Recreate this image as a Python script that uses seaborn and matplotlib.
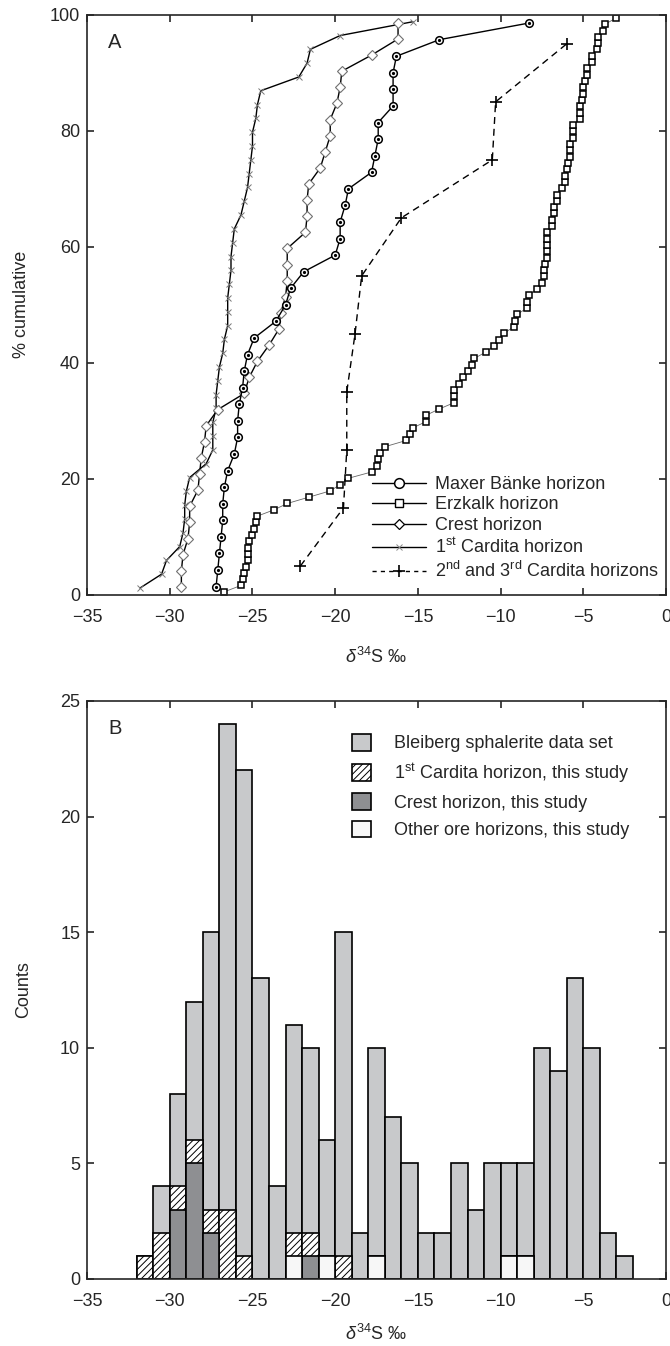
import numpy as np
import pandas as pd
import matplotlib.pyplot as plt
from matplotlib.patches import Patch
from matplotlib.lines import Line2D
import seaborn as sns

sns.set_style("ticks")
plt.rcParams['font.family'] = ['Liberation Sans', 'DejaVu Sans']
plt.rcParams['mathtext.fontset'] = 'custom'
plt.rcParams['mathtext.rm'] = 'Liberation Sans'
plt.rcParams['mathtext.it'] = 'Liberation Sans:italic'
plt.rcParams['hatch.linewidth'] = 0.7
plt.rcParams['hatch.color'] = '#444444'

# --- panel A: d34S values per horizon (sorted) ---
maxer = [-27.2, -27.1, -27.0, -26.9, -26.8, -26.8, -26.7, -26.5, -26.1, -25.9,
         -25.9, -25.8, -25.6, -25.5, -25.3, -24.9, -23.6, -23.0, -22.7, -21.9,
         -20.0, -19.7, -19.7, -19.4, -19.2, -17.8, -17.6, -17.4, -17.4, -16.5,
         -16.5, -16.5, -16.3, -13.7, -8.3]
erzkalk = [-26.7, -25.7, -25.6, -25.5, -25.4, -25.3, -25.3, -25.3, -25.2, -25.0,
           -24.9, -24.8, -24.7, -23.7, -22.9, -21.6, -20.3, -19.7, -19.2, -17.8,
           -17.5, -17.4, -17.3, -17.0, -15.7, -15.5, -15.3, -14.5, -14.5, -13.7,
           -12.8, -12.8, -12.8, -12.5, -12.3, -12.0, -11.7, -11.6, -10.9, -10.4,
           -10.1, -9.8, -9.2, -9.1, -9.0, -8.4, -8.4, -8.3, -7.8, -7.5,
           -7.4, -7.4, -7.3, -7.2, -7.2, -7.2, -7.2, -7.2, -6.9, -6.9,
           -6.8, -6.8, -6.6, -6.6, -6.3, -6.1, -6.1, -6.0, -5.9, -5.8,
           -5.8, -5.8, -5.6, -5.6, -5.6, -5.2, -5.2, -5.2, -5.1, -5.0,
           -5.0, -4.9, -4.8, -4.8, -4.5, -4.5, -4.2, -4.1, -4.1, -3.8,
           -3.7, -3.0]
crest = [-29.3, -29.3, -29.2, -28.9, -28.8, -28.8, -28.3, -28.2, -28.1, -27.9,
         -27.8, -27.1, -25.5, -25.2, -24.7, -24.0, -23.4, -23.3, -23.0, -22.9,
         -22.9, -22.9, -21.8, -21.7, -21.7, -21.6, -20.9, -20.6, -20.3, -20.3,
         -19.9, -19.7, -19.6, -17.8, -16.2, -16.2]
cardita1 = [-31.8, -30.5, -30.2, -29.4, -29.2, -29.1, -29.1, -29.0, -28.8, -27.8,
            -27.4, -27.4, -27.4, -27.2, -27.2, -27.1, -27.0, -26.8, -26.7, -26.5,
            -26.5, -26.5, -26.4, -26.3, -26.3, -26.2, -26.1, -25.7, -25.5, -25.3,
            -25.2, -25.1, -25.0, -25.0, -24.8, -24.7, -24.5, -22.2, -21.7, -21.5,
            -19.7, -15.3]
cardita23 = [-22.1, -19.5, -19.3, -19.3, -18.8, -18.4, -16.0, -10.5, -10.3, -6.0]

# --- panel B: histogram counts, 1 permil bins from -32 to -2 ---
bin_edges = list(range(-32, -1))
total = [1, 4, 8, 12, 15, 24, 22, 13, 4, 11, 10, 6, 15, 2, 10, 7, 5, 2, 2, 5,
         3, 5, 5, 5, 10, 9, 13, 10, 2, 1]
card1_counts = [1, 2, 1, 1, 1, 3, 1, 0, 0, 1, 1, 0, 1, 0, 0, 0, 0, 0, 0, 0,
                0, 0, 0, 0, 0, 0, 0, 0, 0, 0]
crest_counts = [0, 0, 3, 5, 2, 0, 0, 0, 0, 0, 1, 0, 0, 0, 0, 0, 0, 0, 0, 0,
                0, 0, 0, 0, 0, 0, 0, 0, 0, 0]
other_counts = [0, 0, 0, 0, 0, 0, 0, 0, 0, 1, 0, 1, 0, 0, 1, 0, 0, 0, 0, 0,
                0, 0, 1, 1, 0, 0, 0, 0, 0, 0]


def cum_pct(vals):
    n = len(vals)
    return (np.arange(1, n + 1) - 0.5) / n * 100


fig = plt.figure(figsize=(6.7, 13.46), dpi=100)
axA = fig.add_axes([0.130, 0.558, 0.864, 0.431])
axB = fig.add_axes([0.130, 0.0498, 0.864, 0.4294])

FS = 13

# panel A curves
sns.lineplot(x=erzkalk, y=cum_pct(erzkalk), estimator=None, sort=False, ax=axA,
             color='#666666', lw=0.6, marker='s', ms=4.5, mfc='white', mec='black', mew=1.1)
sns.lineplot(x=cardita1, y=cum_pct(cardita1), estimator=None, sort=False, ax=axA,
             color='black', lw=1.0, marker='x', ms=4.5, mec='#777777', mew=0.7)
sns.lineplot(x=crest, y=cum_pct(crest), estimator=None, sort=False, ax=axA,
             color='black', lw=1.0, marker='D', ms=5, mfc='white', mec='#707070', mew=0.8)
sns.lineplot(x=maxer, y=cum_pct(maxer), estimator=None, sort=False, ax=axA,
             color='black', lw=1.0, marker='o', ms=5.5, mfc='white', mec='black', mew=1.1)
axA.plot(maxer, cum_pct(maxer), ls='none', marker='o', ms=1.3, color='black')
sns.lineplot(x=cardita23, y=cum_pct(cardita23), estimator=None, sort=False, ax=axA,
             color='black', lw=1.0, linestyle=(0, (5, 3.5)), marker='+', ms=8,
             mec='black', mew=1.2)

handlesA = [
    Line2D([], [], color='black', lw=1, marker='o', ms=7, mfc='white', mec='black', mew=1.1),
    Line2D([], [], color='black', lw=1, marker='s', ms=5.5, mfc='white', mec='black', mew=1.0),
    Line2D([], [], color='black', lw=1, marker='D', ms=5.5, mfc='white', mec='black', mew=0.9),
    Line2D([], [], color='black', lw=1, marker='x', ms=4, mec='#888888', mew=0.7),
    Line2D([], [], color='black', lw=1, linestyle=(0, (3, 3)), marker='+', ms=8, mew=1.2),
]
labelsA = ['Maxer Bänke horizon', 'Erzkalk horizon', 'Crest horizon',
           '1$^{\\rm st}$ Cardita horizon', '2$^{\\rm nd}$ and 3$^{\\rm rd}$ Cardita horizons']
axA.legend(handlesA, labelsA, loc='lower right', bbox_to_anchor=(0.988, 0.024),
           frameon=False, fontsize=FS, handlelength=3.0, handletextpad=0.5,
           labelspacing=0.2, borderpad=0, borderaxespad=0)

axA.set_xlim(-35, 0)
axA.set_ylim(0, 100)
axA.set_xticks(range(-35, 1, 5))
axA.set_yticks(range(0, 101, 20))
axA.set_ylabel('% cumulative', fontsize=FS, labelpad=14)
axA.set_xlabel(r'$\delta^{34}$S ‰', fontsize=FS, labelpad=15)
axA.text(0.036, 0.968, 'A', transform=axA.transAxes, fontsize=14.5, ha='left', va='top')

# panel B stacked histogram
hist = pd.DataFrame({
    'center': np.array(bin_edges[:-1]) + 0.5,
    'total': total,
    'hatch_top': np.array(card1_counts) + np.array(crest_counts) + np.array(other_counts),
    'crest': crest_counts,
    'other': other_counts,
})
bar_kw = dict(data=hist, x='center', bins=bin_edges, ax=axB, edgecolor='black',
              linewidth=1.2, alpha=1, stat='count')
sns.histplot(weights='total', color='#c8c9cb', **bar_kw)
sns.histplot(weights='hatch_top', color='white', hatch='/////', **bar_kw)
sns.histplot(weights='crest', color='#8e8f92', **bar_kw)
sns.histplot(weights='other', color='#f7f7f7', **bar_kw)

handlesB = [
    Patch(facecolor='#c8c9cb', edgecolor='black', lw=1.2),
    Patch(facecolor='white', edgecolor='black', lw=1.2, hatch='/////'),
    Patch(facecolor='#8e8f92', edgecolor='black', lw=1.2),
    Patch(facecolor='#f7f7f7', edgecolor='black', lw=1.2),
]
labelsB = ['Bleiberg sphalerite data set', '1$^{\\rm st}$ Cardita horizon, this study',
           'Crest horizon, this study', 'Other ore horizons, this study']
axB.legend(handlesB, labelsB, loc='upper left', bbox_to_anchor=(0.458, 0.943),
           frameon=False, fontsize=FS, handlelength=1.05, handleheight=1.05,
           handletextpad=1.25, labelspacing=0.48, borderpad=0, borderaxespad=0)

axB.set_xlim(-35, 0)
axB.set_ylim(0, 25)
axB.set_xticks(range(-35, 1, 5))
axB.set_yticks(range(0, 26, 5))
axB.set_ylabel('Counts', fontsize=FS, labelpad=20)
axB.set_xlabel(r'$\delta^{34}$S ‰', fontsize=FS, labelpad=10)
axB.text(0.036, 0.968, 'B', transform=axB.transAxes, fontsize=14.5, ha='left', va='top')

for ax in (axA, axB):
    ax.tick_params(direction='in', top=True, right=True, length=5, width=1.2,
                   labelsize=FS, pad=5)
    ax.tick_params(axis='x', pad=10)
    for s in ax.spines.values():
        s.set_linewidth(1.2)

fig.savefig('out.png', dpi=100)
